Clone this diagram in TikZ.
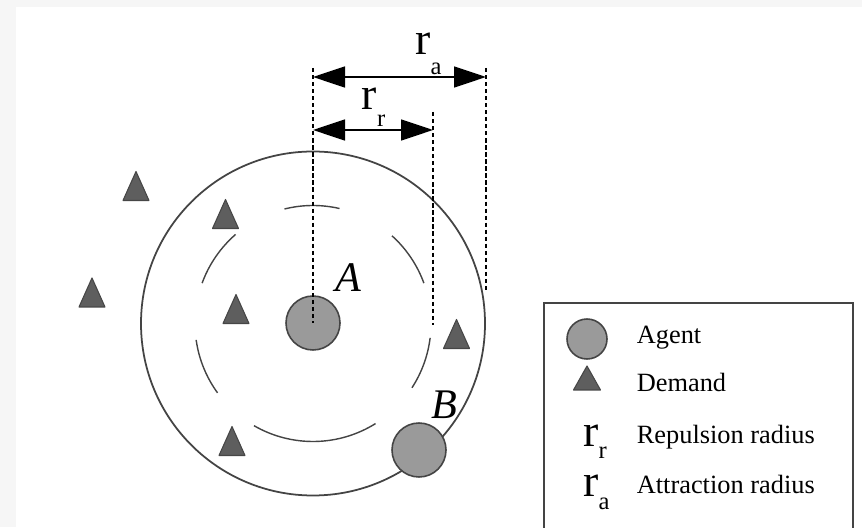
\documentclass[tikz,border=0pt]{standalone}
\usepackage{fontspec}
\setmainfont{Liberation Serif}
\usetikzlibrary{arrows.meta}
\definecolor{agentgray}{HTML}{9A9A9A}
\definecolor{demandgray}{HTML}{5E5E5E}
\definecolor{edgegray}{HTML}{444444}
\newcommand{\radlab}[2]{\fontsize{26}{26}\selectfont r\raisebox{-#2}{\fontsize{14}{14}\selectfont #1}}

\begin{document}
\begin{tikzpicture}[
    agent/.style={circle, draw=edgegray, fill=agentgray, line width=0.9pt, inner sep=0pt, minimum size=1.08cm},
    demand/.style={draw=demandgray!75!black, fill=demandgray, line width=0.6pt, line join=round},
    ring/.style={draw=edgegray, line width=1pt},
    guide/.style={dash pattern=on 2.4pt off 1.6pt, line width=0.9pt},
    dimarrow/.style={{Triangle[length=0.64cm,width=0.42cm]}-{Triangle[length=0.64cm,width=0.42cm]}, line width=1pt},
    lab/.style={inner sep=0pt, anchor=base west}]
      \useasboundingbox (0,0) rectangle (17.24,10.54);
      \fill[gray!7] (0,0) rectangle (17.24,10.54);
      \fill[white] (0.32,0) rectangle (17.24,10.40);
      % rings round agent A
      \coordinate (O) at (6.26,4.07);
      \draw[ring] (O) circle [radius=3.44];
      \foreach \s/\e in {77/104, 20/48, -33/-7, -120/-58, 188/216, 131/160}
        \draw[ring, line width=0.8pt] (O) ++(\s:2.36) arc [start angle=\s, end angle=\e, radius=2.36];
      % demands
      \foreach \x/\y in {2.72/6.82, 1.84/4.69, 4.51/6.26, 4.72/4.36, 9.13/3.86, 4.64/1.72}
        \filldraw[demand] (\x-0.26,\y-0.29) -- (\x+0.26,\y-0.29) -- (\x,\y+0.29) -- cycle;
      % agents
      \node[agent] (A) at (6.26,4.08) {};
      \node[agent] (B) at (8.38,1.54) {};
      \draw (6.70,4.71) node (Alab) [lab] {\fontsize{24}{24}\selectfont\itshape A};
      \draw (8.63,2.17) node (Blab) [lab] {\fontsize{24}{24}\selectfont\itshape B};
      % radii
      \coordinate (ta) at (6.26,9.18);
      \coordinate (tr) at (8.66,8.30);
      \coordinate (br) at (8.66,4.04);
      \coordinate (tq) at (9.72,9.18);
      \coordinate (bq) at (9.72,4.70);
      \draw[guide] (ta) -- (A.center);
      \draw[guide] (tr) -- (br);
      \draw[guide] (tq) -- (bq);
      \coordinate (ra0) at (6.26,9.0);
      \coordinate (ra1) at (9.72,9.0);
      \coordinate (rr0) at (6.26,7.94);
      \coordinate (rr1) at (8.66,7.94);
      \draw[dimarrow] (ra0) -- (ra1);
      \draw[dimarrow] (rr0) -- (rr1);
      \draw (8.30,9.44) node (ralab) [lab] {\radlab{a}{0.4cm}};
      \draw (7.23,8.34) node (rrlab) [lab] {\radlab{r}{0.34cm}};
      % legend
      \draw[ring] (10.88,-0.2) -- (10.88,4.48) -- (17.06,4.48) -- (17.06,-0.2);
      \node[agent, minimum size=0.8cm] (lagent) at (11.74,3.76) {};
      \filldraw[demand] (11.47,2.74) -- (12.01,2.74) -- (11.74,3.22) -- cycle;
      \draw (11.66,1.60) node (lrr) [lab] {\radlab{r}{0.22cm}};
      \draw (11.66,0.60) node (lra) [lab] {\radlab{a}{0.26cm}};
      \draw (12.73,3.67) node (tagent) [lab] {\fontsize{15}{15}\selectfont Agent};
      \draw (12.73,2.71) node (tdemand) [lab] {\fontsize{15}{15}\selectfont Demand};
      \draw (12.73,1.67) node (trep) [lab] {\fontsize{15}{15}\selectfont Repulsion radius};
      \draw (12.73,0.66) node (tatt) [lab] {\fontsize{15}{15}\selectfont Attraction radius};
    \end{tikzpicture}
\end{document}
